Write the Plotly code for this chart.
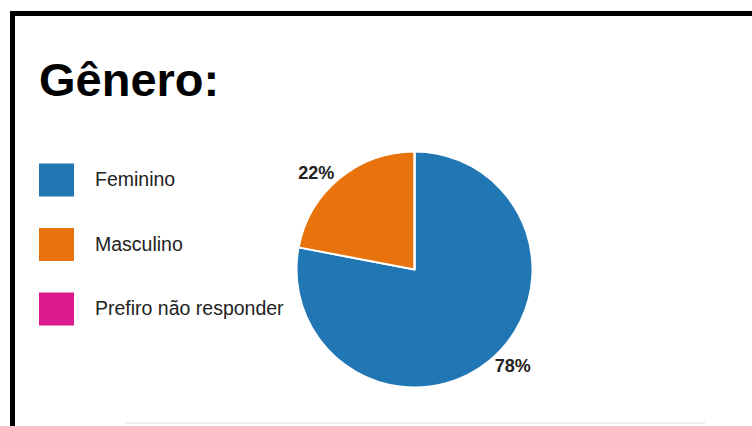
import plotly.graph_objects as go

# ---- data ----
categories = ["Feminino", "Masculino", "Prefiro não responder"]
values = [78, 22, 0]
colors = ["#2176b4", "#e8730c", "#dc1a8d"]
title_text = "Gênero:"

W, H = 752, 426

def px(x):
    return x / W

def py(y):
    return 1 - y / H

# pie placement (pixels)
cx, cy, r = 414.5, 269.5, 118

fig = go.Figure()
fig.add_trace(go.Pie(
    labels=categories,
    values=values,
    sort=False,
    direction="clockwise",
    rotation=0,
    marker=dict(colors=colors, line=dict(color="white", width=2)),
    texttemplate=["<b>%{percent:.0%}</b>" if v > 0 else "" for v in values],
    textposition="outside",
    textfont=dict(family="Liberation Sans, Arial, sans-serif", size=18, color="#222222"),
    showlegend=False,
    hoverinfo="label+percent",
    domain=dict(x=[px(cx - r), px(cx + r)], y=[py(cy + r), py(cy - r)]),
))

shapes = []
annotations = []

# frame (black border left and top)
shapes.append(dict(type="rect", xref="paper", yref="paper",
                   x0=px(10), x1=px(15), y0=py(426), y1=py(11),
                   fillcolor="black", line=dict(width=0)))
shapes.append(dict(type="rect", xref="paper", yref="paper",
                   x0=px(10), x1=px(752), y0=py(16), y1=py(11),
                   fillcolor="black", line=dict(width=0)))
# faint bottom separator
shapes.append(dict(type="line", xref="paper", yref="paper",
                   x0=px(125), x1=px(705), y0=py(423), y1=py(423),
                   line=dict(color="#ececec", width=2)))

# custom legend
leg_top = 180
leg_step = 64.5
for i, (cat, col) in enumerate(zip(categories, colors)):
    yc = leg_top + i * leg_step
    shapes.append(dict(type="rect", xref="paper", yref="paper",
                       x0=px(39), x1=px(74), y0=py(yc + 16.5), y1=py(yc - 16.5),
                       fillcolor=col, line=dict(width=0)))
    annotations.append(dict(xref="paper", yref="paper", x=px(93), y=py(yc - 1),
                            text=cat, showarrow=False, xanchor="left", yanchor="middle",
                            font=dict(family="Liberation Sans, Arial, sans-serif", size=19.5,
                                      color="#222222")))

# title
annotations.append(dict(xref="paper", yref="paper", x=px(37), y=py(79),
                        text="<b>" + title_text + "</b>", showarrow=False,
                        xanchor="left", yanchor="middle",
                        font=dict(family="Liberation Sans, Arial, sans-serif", size=47,
                                  color="#000000")))

fig.update_layout(
    width=W, height=H,
    margin=dict(l=0, r=0, t=0, b=0),
    paper_bgcolor="white",
    plot_bgcolor="white",
    shapes=shapes,
    annotations=annotations,
    showlegend=False,
)

fig.write_html("out.html")
